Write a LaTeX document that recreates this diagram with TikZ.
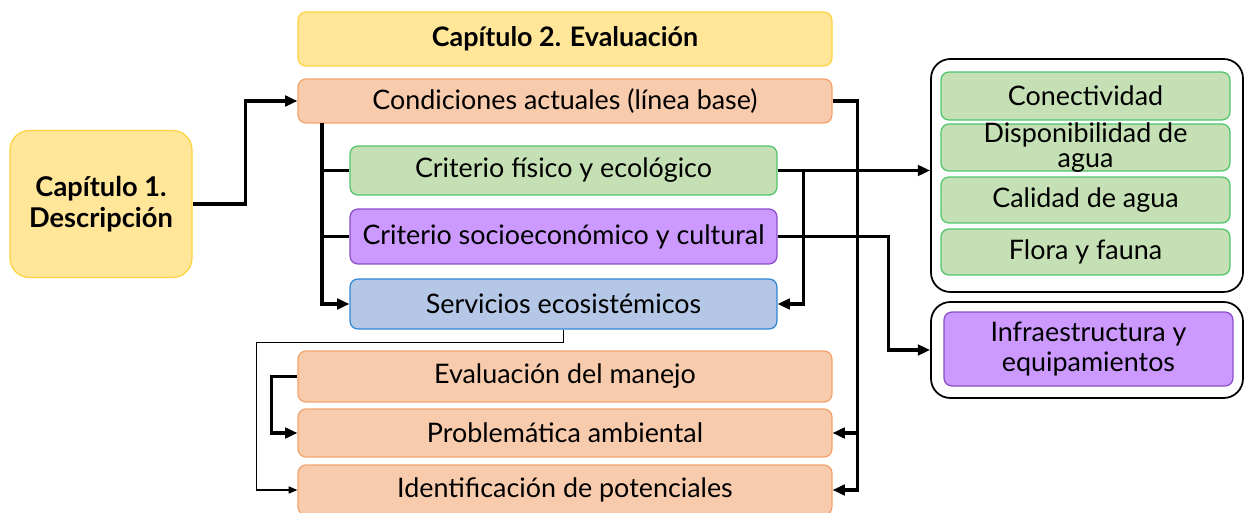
\documentclass[tikz,border=0pt]{standalone}
\usepackage{fontspec}
\setmainfont{Lato}
\usetikzlibrary{arrows.meta}
\definecolor{amarillo}{HTML}{FFE699}
\definecolor{amarilloborde}{HTML}{FFD33F}
\definecolor{naranja}{HTML}{F8CBAD}
\definecolor{naranjaborde}{HTML}{F2A36B}
\definecolor{verde}{HTML}{C5E0B4}
\definecolor{verdeborde}{HTML}{4CC46A}
\definecolor{morado}{HTML}{CC99FF}
\definecolor{moradoborde}{HTML}{8A4CC8}
\definecolor{azul}{HTML}{B4C7E7}
\definecolor{azulborde}{HTML}{2E86D6}
\tikzset{
  caja/.style={draw, line width=0.7pt, rounded corners=4.5pt, inner sep=2pt,
    align=center, font=\fontsize{15.3}{17}\selectfont},
  cajanaranja/.style={caja, fill=naranja, draw=naranjaborde, minimum width=10.68cm},
  cajacentro/.style={caja, minimum width=8.54cm},
  cajader/.style={caja, fill=verde, draw=verdeborde, minimum width=5.78cm},
  grupo/.style={draw=black, line width=1pt, rounded corners=11pt, minimum width=6.24cm},
  linea/.style={line width=2pt, line join=miter},
  flecha/.style={linea, -{Triangle[length=7pt,width=6pt]}},
  fina/.style={line width=0.8pt, -{Triangle[length=5pt,width=4pt]}}
}
\begin{document}
\begin{tikzpicture}[x=0.02cm,y=-0.02cm]
\useasboundingbox (0,0) rectangle (1245,513);

\node[caja, fill=amarillo, draw=amarilloborde, minimum width=10.68cm, minimum height=1.08cm,
  font=\bfseries\fontsize{15.3}{17}\selectfont] (cap2) at (565,39) {Capítulo 2. Evaluación};
\node[cajanaranja, minimum height=0.88cm] (cond) at (565,101) {Condiciones actuales (línea base)};
\node[caja, fill=amarillo, draw=amarilloborde, rounded corners=11pt, minimum width=3.64cm,
  minimum height=2.94cm, font=\bfseries\fontsize{15.5}{18}\selectfont] (cap1) at (101,204) {Capítulo 1.\\Descripción};

\node[cajacentro, fill=verde, draw=verdeborde, minimum height=0.98cm] (fis) at (563.5,170.5) {Criterio físico y ecológico};
\node[cajacentro, fill=morado, draw=moradoborde, minimum height=1.1cm] (soc) at (563.5,236.5) {Criterio socioeconómico y cultural};
\node[cajacentro, fill=azul, draw=azulborde, minimum height=1cm] (serv) at (563.5,304) {Servicios ecosistémicos};

\node[cajanaranja, minimum height=1.02cm] (man) at (565,376.5) {Evaluación del manejo};
\node[cajanaranja, minimum height=0.96cm] (prob) at (565,433) {Problemática ambiental};
\node[cajanaranja, minimum height=1cm] (iden) at (565,490) {Identificación de potenciales};

\node[grupo, minimum height=4.66cm] (grupo1) at (1087,175.5) {};
\node[cajader, minimum height=0.96cm] (con) at (1085.5,96) {Conectividad};
\node[cajader, minimum height=0.94cm,
  label={[align=center, font=\fontsize{15.3}{14.5}\selectfont]center:Disponibilidad de\\agua}] (disp) at (1085.5,147.5) {};
\node[cajader, minimum height=0.92cm] (cal) at (1085.5,200) {Calidad de agua};
\node[cajader, minimum height=0.92cm] (flo) at (1085.5,252) {Flora y fauna};

\node[grupo, minimum height=1.92cm] (grupo2) at (1087,350) {};
\node[caja, fill=morado, draw=moradoborde, minimum width=5.78cm, minimum height=1.48cm] (inf) at (1088.5,349) {Infraestructura y\\equipamientos};

\draw[flecha] (cap1.east) -- ++(53,0) |- (cond.west);
\coordinate (tronco) at (322,123);
\draw[linea] (tronco) |- (fis.west);
\draw[linea] (tronco) |- (soc.west);
\draw[flecha] (tronco) |- (serv.west);

\draw[flecha] (cond.east) -- ++(25,0) coordinate (b1) |- (iden.east);
\draw[flecha] (b1 |- prob.east) -- (prob.east);

\draw[flecha] (fis.east) -- (grupo1.west |- fis.east);
\draw[flecha] (fis.east) ++(26,0) |- (serv.east);
\draw[flecha] (soc.east) -- ++(111,0) |- (grupo2.west);

\draw[fina] (serv.south) -- ++(0,13) -- ++(-307,0) |- (iden.west);
\draw[flecha] (man.west) -- ++(-26,0) |- (prob.west);
\end{tikzpicture}
\end{document}
